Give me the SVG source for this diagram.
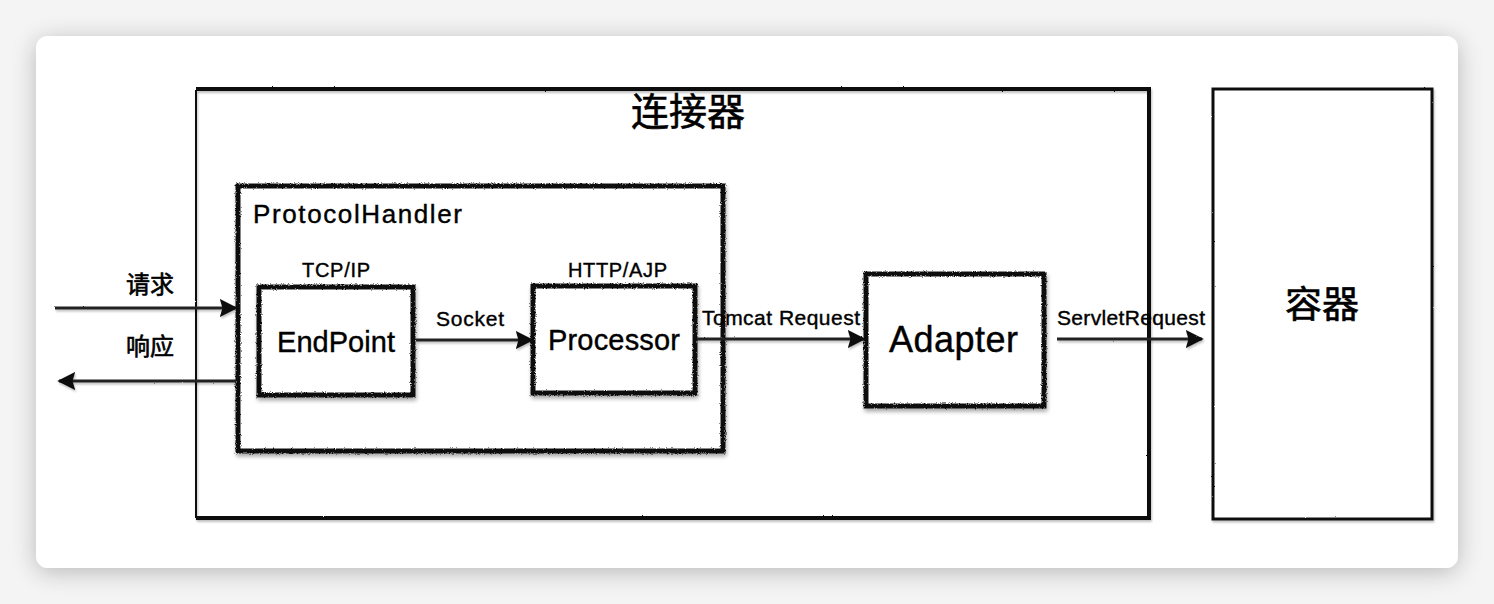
<svg xmlns="http://www.w3.org/2000/svg" width="1494" height="604" viewBox="0 0 1494 604">
<defs>
<filter id="cardShadow" x="-10%" y="-10%" width="120%" height="130%">
<feGaussianBlur in="SourceAlpha" stdDeviation="12"/>
<feOffset dy="4"/>
<feComponentTransfer><feFuncA type="linear" slope="0.25"/></feComponentTransfer>
<feMerge><feMergeNode/><feMergeNode in="SourceGraphic"/></feMerge>
</filter>
<filter id="rough" filterUnits="userSpaceOnUse" x="0" y="0" width="1494" height="604">
<feTurbulence type="fractalNoise" baseFrequency="0.9" numOctaves="2" seed="3" result="n"/>
<feDisplacementMap in="SourceGraphic" in2="n" scale="3" xChannelSelector="R" yChannelSelector="G" result="d"/>
<feGaussianBlur in="SourceAlpha" stdDeviation="2"/>
<feOffset dx="1" dy="3"/>
<feComponentTransfer><feFuncA type="linear" slope="0.35"/></feComponentTransfer>
<feMerge><feMergeNode/><feMergeNode in="d"/></feMerge>
</filter>
<filter id="roughLine" filterUnits="userSpaceOnUse" x="0" y="0" width="1494" height="604">
<feTurbulence type="fractalNoise" baseFrequency="0.9" numOctaves="2" seed="5" result="n"/>
<feDisplacementMap in="SourceGraphic" in2="n" scale="1.5" xChannelSelector="R" yChannelSelector="G" result="d"/>
<feGaussianBlur in="SourceAlpha" stdDeviation="1.2"/>
<feOffset dx="1" dy="2"/>
<feComponentTransfer><feFuncA type="linear" slope="0.25"/></feComponentTransfer>
<feMerge><feMergeNode/><feMergeNode in="d"/></feMerge>
</filter>
<marker id="arr" viewBox="0 0 10 10" refX="9" refY="5" markerWidth="6" markerHeight="6" markerUnits="strokeWidth" orient="auto">
<path d="M0,0 L10,5 L0,10 L1.5,5 Z" fill="#111"/>
</marker>
</defs>
<style>
.box{fill:#fff;stroke:#111;stroke-width:5}
.thin{fill:none;stroke:#111}
.conn{fill:none;stroke:#222;stroke-width:3;marker-end:url(#arr)}
.t{font-family:"Helvetica","Liberation Sans","Noto Sans CJK SC",sans-serif;fill:#000;stroke:#000;stroke-width:0.4}
.cjk{font-family:"Noto Sans CJK SC","Liberation Sans",sans-serif;fill:#000;stroke:#000;stroke-width:0.6}
</style>
<rect width="1494" height="604" fill="#f4f4f4"/>
<rect x="36" y="36" width="1422" height="532" rx="12" fill="#fff" filter="url(#cardShadow)"/>

<g id="connector">
<rect x="196" y="89" width="953" height="429" fill="#fff" stroke="none"/>
<path class="thin" d="M196,90 L196,518" stroke-width="2" filter="url(#roughLine)"/>
<path class="thin" d="M196,89 L1149,89 L1149,518 L196,518" stroke-width="4" filter="url(#roughLine)"/>
<text class="cjk" x="688" y="125" font-size="38" text-anchor="middle">连接器</text>
</g>

<g id="container">
<rect x="1213" y="89" width="219" height="430" fill="#fff" stroke="#111" stroke-width="3" filter="url(#roughLine)"/>
<text class="cjk" x="1322" y="318" font-size="37" text-anchor="middle">容器</text>
</g>

<g id="protocolhandler">
<rect class="box" x="238" y="186" width="485" height="265" filter="url(#rough)"/>
<text class="t" x="253" y="223" font-size="26" textLength="209" lengthAdjust="spacing">ProtocolHandler</text>
</g>

<g id="endpoint">
<rect class="box" x="259" y="287" width="154" height="108" filter="url(#rough)"/>
<text class="t" x="277" y="352" font-size="29" textLength="118" lengthAdjust="spacing">EndPoint</text>
<text class="t" x="302" y="277" font-size="20" textLength="68" lengthAdjust="spacing">TCP/IP</text>
</g>

<g id="processor">
<rect class="box" x="533" y="286" width="162" height="107" filter="url(#rough)"/>
<text class="t" x="548" y="350" font-size="29" textLength="132" lengthAdjust="spacing">Processor</text>
<text class="t" x="568" y="277" font-size="20" textLength="99" lengthAdjust="spacing">HTTP/AJP</text>
</g>

<g id="adapter">
<rect class="box" x="866" y="274" width="178" height="132" filter="url(#rough)"/>
<text class="t" x="889" y="352" font-size="36" textLength="129" lengthAdjust="spacing">Adapter</text>
</g>

<g id="connectors">
<path class="conn" d="M55,308 L236,308" filter="url(#roughLine)"/>
<text class="cjk" x="150" y="293" font-size="24" text-anchor="middle">请求</text>
<path class="conn" d="M236,381 L59,381" filter="url(#roughLine)"/>
<text class="cjk" x="150" y="355" font-size="24" text-anchor="middle">响应</text>
<path class="conn" d="M416,340 L532,340" filter="url(#roughLine)"/>
<text class="t" x="436" y="326" font-size="21" textLength="68" lengthAdjust="spacing">Socket</text>
<path class="conn" d="M697,339 L864,339" filter="url(#roughLine)"/>
<text class="t" x="702" y="325" font-size="21" textLength="158" lengthAdjust="spacing">Tomcat Request</text>
<path class="conn" d="M1057,339 L1202,339" filter="url(#roughLine)"/>
<text class="t" x="1057" y="325" font-size="21" textLength="148" lengthAdjust="spacing">ServletRequest</text>
</g>
</svg>
